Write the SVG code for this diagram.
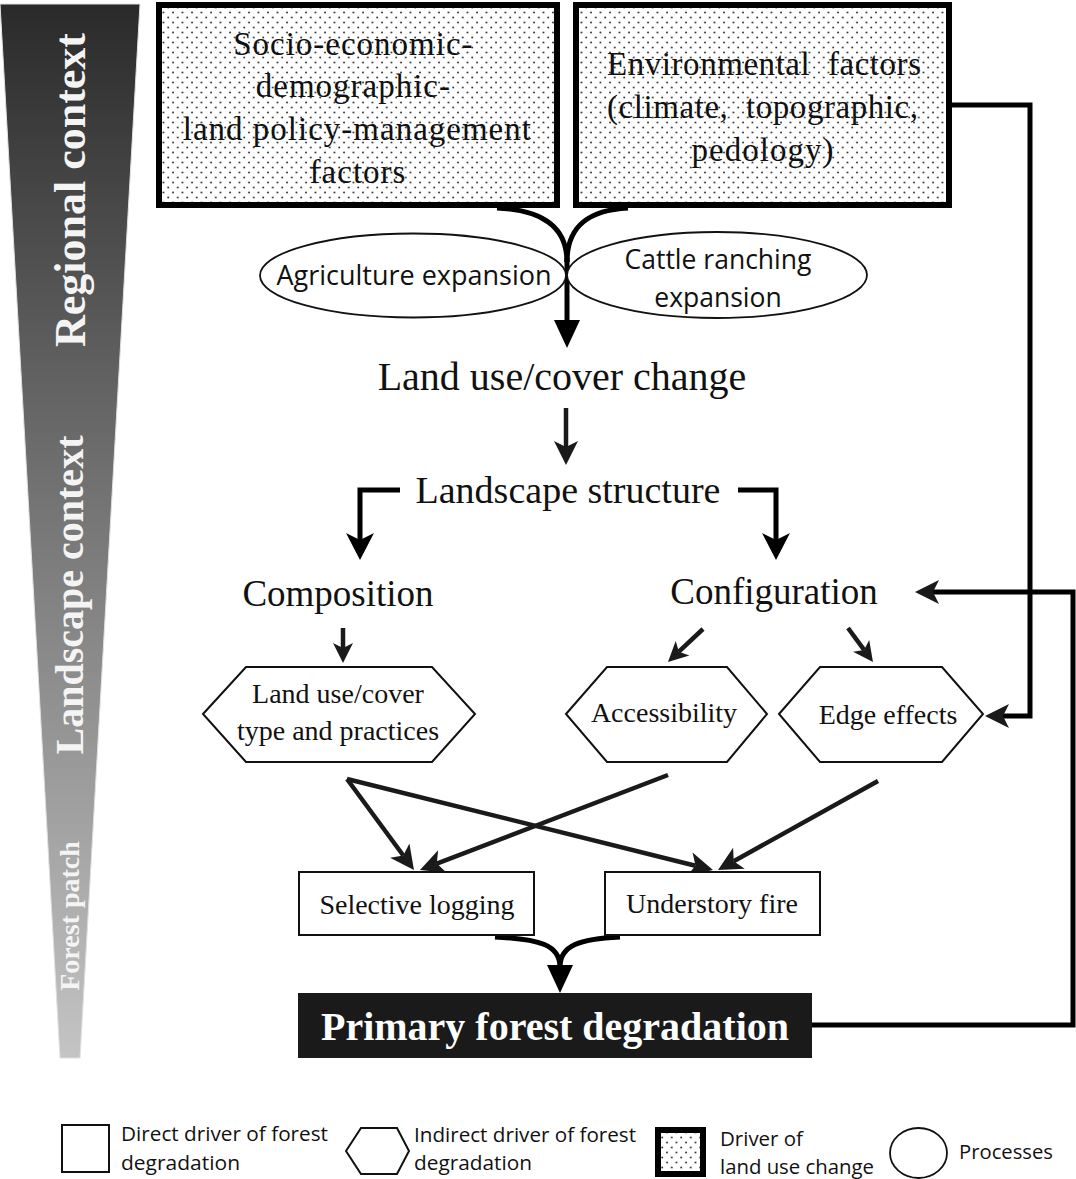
<svg xmlns="http://www.w3.org/2000/svg" width="1076" height="1179" viewBox="0 0 1076 1179">
<defs>
<linearGradient id="barGrad" x1="0" y1="0" x2="0" y2="1">
<stop offset="0" stop-color="#2a2a2a"/>
<stop offset="0.5" stop-color="#787878"/>
<stop offset="1" stop-color="#c4c4c4"/>
</linearGradient>
<pattern id="dots" width="9.5" height="10" patternUnits="userSpaceOnUse">
<rect width="9.5" height="10" fill="#ffffff"/>
<circle cx="2" cy="2.5" r="0.9" fill="#222"/>
<circle cx="6.75" cy="7.5" r="0.9" fill="#222"/>
</pattern>
<marker id="stealth" markerUnits="userSpaceOnUse" markerWidth="30" markerHeight="30" refX="0" refY="0" orient="auto" overflow="visible">
<path d="M-6,-12 L18,0 L-6,12 L0,0 Z" fill="#1a1a1a"/>
</marker>
<marker id="stealthL" markerUnits="userSpaceOnUse" markerWidth="30" markerHeight="30" refX="0" refY="0" orient="auto" overflow="visible">
<path d="M-7,-14 L20,0 L-7,14 L0,0 Z" fill="#000"/>
</marker>
<marker id="stealthS" markerUnits="userSpaceOnUse" markerWidth="30" markerHeight="30" refX="0" refY="0" orient="auto" overflow="visible">
<path d="M-5,-10 L15,0 L-5,10 L0,0 Z" fill="#1a1a1a"/>
</marker>
<marker id="tri" markerUnits="userSpaceOnUse" markerWidth="30" markerHeight="30" refX="0" refY="0" orient="auto" overflow="visible">
<path d="M-2,-13 L26,0 L-2,13 Z" fill="#000"/>
</marker>
<style>
.serif{font-family:"Liberation Serif","Times New Roman",serif;fill:#111}
.sans{font-family:"Open Sans","Liberation Sans",sans-serif;fill:#111}
.legend{font-family:"Liberation Sans Narrow","Open Sans","Liberation Sans",sans-serif;fill:#111;font-size:20px}
.driver{fill:url(#dots);stroke:#000;stroke-width:6}
.proc{fill:#fff;stroke:#111;stroke-width:1.8}
.hex{fill:#fff;stroke:#111;stroke-width:2}
.box{fill:#fff;stroke:#111;stroke-width:2}
.conn{fill:none;stroke:#1a1a1a;stroke-width:4.5}
.thick{fill:none;stroke:#000;stroke-width:5}
.side{font-family:"Liberation Serif","Times New Roman",serif;font-weight:bold;fill:#f4f4f4}
</style>
</defs>
<rect width="1076" height="1179" fill="#ffffff"/>

<g id="context-bar">
<polygon points="0,4 140,4 80,1058 60,1058" fill="url(#barGrad)" stroke="#e0e0e0" stroke-width="1"/>
<text class="side" font-size="44" text-anchor="middle" transform="translate(85,190) rotate(-90)">Regional context</text>
<text class="side" font-size="40" text-anchor="middle" transform="translate(83,595) rotate(-90)">Landscape context</text>
<text class="side" font-size="28" text-anchor="middle" fill="#e8e8e8" transform="translate(79,916) rotate(-90)">Forest patch</text>
</g>

<g id="connectors">
<path class="thick" d="M497,208 C540,210 567,225 567,262"/>
<path class="thick" d="M628,208 C590,210 567,225 567,262"/>
<path class="thick" d="M567,258 L567,322" marker-end="url(#tri)"/>
<path class="conn" stroke-width="4" d="M566,408 L566,447" marker-end="url(#stealth)"/>
<path class="thick" d="M400,490 L360,490 L360,540" marker-end="url(#stealthL)"/>
<path class="thick" d="M738,490 L776,490 L776,540" marker-end="url(#stealthL)"/>
<path class="conn" stroke-width="3.5" d="M343,628 L343,648" marker-end="url(#stealthS)"/>
<path class="conn" stroke-width="4" d="M703,629 L678.9,651.7" marker-end="url(#stealthS)"/>
<path class="conn" stroke-width="4" d="M848,628 L864.1,649.9" marker-end="url(#stealthS)"/>
<path class="conn" d="M347,779 L403.3,855.5" marker-end="url(#stealth)"/>
<path class="conn" d="M347,779 L695.5,865.7" marker-end="url(#stealth)"/>
<path class="conn" d="M668,775 L436.8,863.6" marker-end="url(#stealth)"/>
<path class="conn" d="M878,781 L733.7,861.2" marker-end="url(#stealth)"/>
<path class="thick" d="M495,937 C540,939 560,945 560,967" marker-end="url(#tri)"/>
<path class="thick" d="M620,937 C580,939 560,945 560,967"/>
<path class="thick" d="M812,1025 L1073,1025 L1073,592 L933,592" marker-end="url(#stealth)"/>
<path class="thick" d="M952,105 L1030,105 L1030,716 L1003,716" marker-end="url(#stealth)"/>
</g>

<g id="socio-economic">
<rect class="driver" x="159" y="5" width="398" height="200"/>
<text class="serif" font-size="33" letter-spacing="1" text-anchor="middle">
<tspan x="358" y="55">Socio-economic-</tspan>
<tspan x="358" y="97">demographic-</tspan>
<tspan x="362" y="140">land policy-management</tspan>
<tspan x="358" y="183">factors</tspan>
</text>
</g>

<g id="environmental">
<rect class="driver" x="576" y="5" width="373" height="200"/>
<text class="serif" font-size="33" xml:space="preserve"><tspan x="607" y="75" textLength="314" lengthAdjust="spacing">Environmental  factors</tspan><tspan x="607" y="118" textLength="311" lengthAdjust="spacing">(climate,  topographic,</tspan></text>
<text class="serif" font-size="33" letter-spacing="1" text-anchor="middle" x="763" y="161">pedology)</text>
</g>

<g id="agriculture">
<ellipse class="proc" cx="413" cy="275.5" rx="153" ry="42"/>
<text class="sans" font-size="27" text-anchor="middle" x="414" y="285">Agriculture expansion</text>
</g>

<g id="cattle">
<ellipse class="proc" cx="717" cy="275" rx="150" ry="43"/>
<text class="sans" font-size="26.5" text-anchor="middle"><tspan x="718" y="269">Cattle ranching</tspan><tspan x="718" y="307">expansion</tspan></text>
</g>

<g id="land-use-change">
<text class="serif" font-size="40" text-anchor="middle" x="562" y="390">Land use/cover change</text>
</g>

<g id="landscape-structure">
<text class="serif" font-size="38" text-anchor="middle" x="568" y="503">Landscape structure</text>
</g>

<g id="composition">
<text class="serif" font-size="37" text-anchor="middle" x="338" y="606">Composition</text>
</g>

<g id="configuration">
<text class="serif" font-size="37" text-anchor="middle" x="774" y="604">Configuration</text>
</g>

<g id="land-use-type">
<polygon class="hex" points="203,714 246,667 432,667 475,714 432,762 246,762"/>
<text class="serif" font-size="28" text-anchor="middle"><tspan x="338" y="703">Land use/cover</tspan><tspan x="338" y="740">type and practices</tspan></text>
</g>

<g id="accessibility">
<polygon class="hex" points="566,714 607,667 727,667 767,714 727,762 607,762"/>
<text class="serif" font-size="28" text-anchor="middle" x="664" y="722">Accessibility</text>
</g>

<g id="edge-effects">
<polygon class="hex" points="779,714 820,667 942,667 983,714 942,762 820,762"/>
<text class="serif" font-size="28" text-anchor="middle" x="888" y="724">Edge effects</text>
</g>

<g id="selective-logging">
<rect class="box" x="299" y="872" width="235" height="63"/>
<text class="serif" font-size="28" text-anchor="middle" x="417" y="914">Selective logging</text>
</g>

<g id="understory-fire">
<rect class="box" x="605" y="872" width="215" height="63"/>
<text class="serif" font-size="28" text-anchor="middle" x="712" y="913">Understory fire</text>
</g>

<g id="primary-forest-degradation">
<rect x="298" y="993" width="514" height="65" fill="#1a1a1a"/>
<text class="serif" font-size="40" font-weight="bold" style="fill:#ffffff" text-anchor="middle" x="555" y="1040">Primary forest degradation</text>
</g>

<g id="legend">
<rect class="box" x="62" y="1125" width="47" height="47"/>
<text class="legend"><tspan x="121" y="1141" textLength="207" lengthAdjust="spacingAndGlyphs">Direct driver of forest</tspan><tspan x="121" y="1170" textLength="119" lengthAdjust="spacingAndGlyphs">degradation</tspan></text>
<polygon class="hex" points="346,1151 361,1128 397,1128 409,1151 397,1174 361,1174"/>
<text class="legend"><tspan x="414" y="1142" textLength="222" lengthAdjust="spacingAndGlyphs">Indirect driver of forest</tspan><tspan x="414" y="1170" textLength="118" lengthAdjust="spacingAndGlyphs">degradation</tspan></text>
<rect class="driver" x="658" y="1130" width="45" height="44"/>
<text class="legend"><tspan x="720" y="1146" textLength="83" lengthAdjust="spacingAndGlyphs">Driver of</tspan><tspan x="720" y="1174" textLength="154" lengthAdjust="spacingAndGlyphs">land use change</tspan></text>
<ellipse class="proc" cx="918.5" cy="1153" rx="28.5" ry="25"/>
<text class="legend" x="959" y="1159" textLength="94" lengthAdjust="spacingAndGlyphs">Processes</text>
</g>
</svg>
